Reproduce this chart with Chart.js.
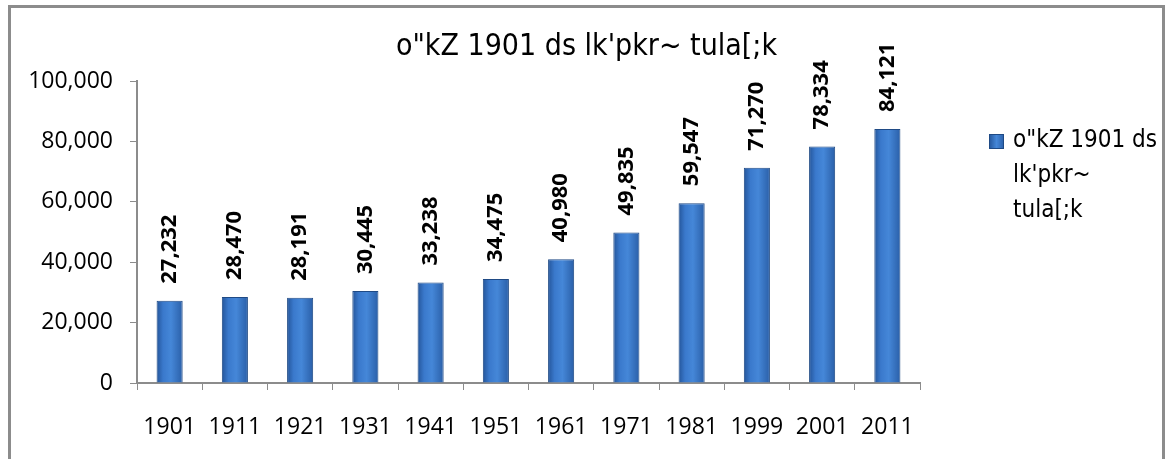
<!DOCTYPE html>
<html>
<head>
<meta charset="utf-8">
<script src="https://cdn.jsdelivr.net/npm/chart.js@4.4.1/dist/chart.umd.min.js"></script>
<style>
  html, body { margin: 0; padding: 0; background: #fff; overflow: hidden; }
  #wrap {
    position: absolute; left: 8px; top: 5px;
    width: 1151px; height: 460px;
    border: 3px solid #8c8c8c; border-bottom: none;
    background: #fff;
  }
</style>
</head>
<body>
<div id="wrap"><canvas id="chart" width="1151" height="451"></canvas></div>
<script>
// Daten der Grafik
const years = ["1901", "1911", "1921", "1931", "1941", "1951", "1961", "1971", "1981", "1999", "2001", "2011"];
const population = [27232, 28470, 28191, 30445, 33238, 34475, 40980, 49835, 59547, 71270, 78334, 84121];
const yTicks = [0, 20000, 40000, 60000, 80000, 100000];
const titleText = "o\"kZ 1901 ds lk'pkr~ tula[;k";
const legendLines = ["o\"kZ 1901 ds", "lk'pkr~", "tula[;k"];

const narrowFont = "'Liberation Sans Narrow', 'DejaVu Sans Condensed', 'Noto Sans', sans-serif";
const fmt = v => v.toLocaleString("en-US");

// Farbverlauf fuer die Balken (leichter 3D-Effekt)
function barFill(context) {
    const chart = context.chart;
    const xScale = chart.scales.x;
    if (!xScale || context.dataIndex === undefined) return "#3b78c8";
    const cx = xScale.getPixelForValue(context.dataIndex);
    if (!isFinite(cx)) return "#3b78c8";
    const half = 13;
    const g = chart.ctx.createLinearGradient(cx - half, 0, cx + half, 0);
    g.addColorStop(0, "#24559a");
    g.addColorStop(0.25, "#3a79cc");
    g.addColorStop(0.55, "#4587d8");
    g.addColorStop(1, "#2a5fa8");
    return g;
}

// Werte ueber den Balken, um 90 Grad gedreht
const valueLabels = {
    id: "valueLabels",
    afterDatasetsDraw(chart) {
        const ctx = chart.ctx;
        const meta = chart.getDatasetMeta(0);
        ctx.save();
        ctx.font = "bold 22px 'Open Sans', sans-serif";
        ctx.fillStyle = "#000";
        ctx.textAlign = "left";
        ctx.textBaseline = "middle";
        meta.data.forEach((bar, i) => {
            ctx.save();
            ctx.translate(bar.x, bar.y - 17);
            ctx.rotate(-Math.PI / 2);
            ctx.fillText(fmt(population[i]), 0, 0);
            ctx.restore();
        });
        ctx.restore();
    }
};

// Legende rechts, Text auf drei Zeilen umgebrochen
const sideLegend = {
    id: "sideLegend",
    afterDraw(chart) {
        const ctx = chart.ctx;
        const x0 = chart.chartArea.right + 69;
        const y0 = 133;
        ctx.save();
        const g = ctx.createLinearGradient(x0, 0, x0 + 15, 0);
        g.addColorStop(0, "#24559a");
        g.addColorStop(0.5, "#4587d8");
        g.addColorStop(1, "#2a5fa8");
        ctx.fillStyle = g;
        ctx.fillRect(x0, y0 - 7, 15, 15);
        ctx.strokeStyle = "#1f4a85";
        ctx.lineWidth = 1;
        ctx.strokeRect(x0 + 0.5, y0 - 6.5, 14, 14);
        ctx.font = "24px " + narrowFont;
        ctx.fillStyle = "#000";
        ctx.textAlign = "left";
        ctx.textBaseline = "middle";
        legendLines.forEach((line, i) => {
            ctx.fillText(line, x0 + 24, y0 + i * 35);
        });
        ctx.restore();
    }
};

const ctx = document.getElementById("chart").getContext("2d");
new Chart(ctx, {
    type: "bar",
    data: {
        labels: years,
        datasets: [{
            label: titleText,
            data: population,
            backgroundColor: barFill,
            borderColor: "#1f4a85",
            borderWidth: 1,
            barPercentage: 0.4,
            categoryPercentage: 1.0
        }]
    },
    options: {
        responsive: false,
        animation: false,
        layout: { padding: 0 },
        plugins: {
            title: {
                display: true,
                text: titleText,
                color: "#000",
                font: { family: narrowFont, size: 30, weight: "normal" },
                padding: { top: 21, bottom: 16 }
            },
            legend: { display: false },
            tooltip: { enabled: false }
        },
        scales: {
            x: {
                grid: {
                    display: true, drawOnChartArea: false, drawTicks: true,
                    tickLength: 7, color: "#8c8c8c", offset: true
                },
                border: { color: "#8c8c8c", width: 2 },
                ticks: {
                    color: "#000", padding: 24,
                    font: { family: "'Open Sans', sans-serif", size: 23 },
                    maxRotation: 0
                },
                afterFit(scale) { scale.height = 76; }
            },
            y: {
                min: 0,
                max: 100000,
                grid: {
                    display: true, drawOnChartArea: false, drawTicks: true,
                    tickLength: 7, color: "#8c8c8c"
                },
                border: { color: "#8c8c8c", width: 2 },
                afterBuildTicks(scale) {
                    scale.ticks = yTicks.map(v => ({ value: v }));
                },
                ticks: {
                    color: "#000", padding: 17,
                    font: { family: "'Open Sans', sans-serif", size: 23 },
                    callback: v => fmt(v)
                },
                afterFit(scale) { scale.width = 126; }
            },
            // leere Achse rechts: haelt Platz fuer die Legende frei
            legendSpace: {
                type: "linear",
                position: "right",
                min: 0,
                max: 1,
                grid: { display: false },
                border: { display: false },
                ticks: { display: false },
                afterFit(scale) { scale.width = 242; }
            }
        }
    },
    plugins: [valueLabels, sideLegend]
});
</script>
</body>
</html>
